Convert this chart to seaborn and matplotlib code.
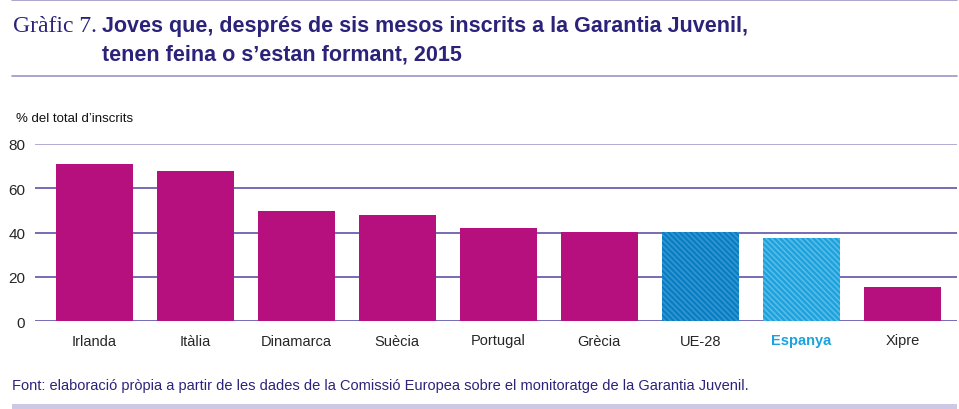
import matplotlib
matplotlib.use("Agg")
import matplotlib.pyplot as plt
import pandas as pd
import seaborn as sns

# data
countries = ["Irlanda", "Itàlia", "Dinamarca", "Suècia", "Portugal",
             "Grècia", "UE-28", "Espanya", "Xipre"]
values = [71.0, 67.8, 49.7, 47.9, 42.0, 40.2, 40.1, 37.5, 15.4]
yticks = [0, 20, 40, 60, 80]

MAGENTA = "#b5107e"
EU_BLUE = "#0a7ec3"
ES_BLUE = "#1ca2dd"
NAVY = "#2b2379"
GRID = "#4f44a0"
LIGHT_LINE = "#9d95c6"
BAND = "#cdc9e4"

bar_colors = {c: MAGENTA for c in countries}
bar_colors["UE-28"] = EU_BLUE
bar_colors["Espanya"] = ES_BLUE
hatch_colors = {"UE-28": "#3598d3", "Espanya": "#5cbde8"}

sns.set_style("white")
plt.rcParams["font.family"] = ["Liberation Sans", "DejaVu Sans"]
plt.rcParams["hatch.linewidth"] = 1.1

df = pd.DataFrame({"pais": countries, "valor": values})

fig = plt.figure(figsize=(9.59, 4.10), dpi=100)
ax = fig.add_axes([35 / 959, 1 - 322 / 410, 922 / 959, 177 / 410])

sns.barplot(data=df, x="pais", y="valor", hue="pais", palette=bar_colors,
            width=0.76, legend=False, ax=ax, zorder=3, saturation=1)

for patch, name in zip(ax.patches, countries):
    patch.set_linewidth(0)
    if name in hatch_colors:
        patch.set_hatch("\\" * 6)
        patch.set_edgecolor(hatch_colors[name])

ax.set_ylim(0, 80)
ax.set_xlim(-0.585, len(countries) - 1 + 0.54)
ax.set_yticks(yticks)
ax.set_yticklabels([str(t) for t in yticks], fontsize=11)
for t in yticks:
    ax.axhline(t, color=LIGHT_LINE if t == 80 else GRID, lw=1.1, zorder=1)
for s in ax.spines.values():
    s.set_visible(False)
ax.tick_params(axis="y", length=0, pad=7)
ax.tick_params(axis="x", length=0, pad=9)
ax.set_xlabel("")
ax.set_ylabel("")
ax.set_xticks(range(len(countries)))
ax.set_xticklabels(countries, fontsize=10.5)
for lbl in ax.get_xticklabels():
    if lbl.get_text() == "Espanya":
        lbl.set_color(ES_BLUE)
        lbl.set_fontweight("bold")

# frame lines, title and notes
fig.add_artist(plt.Line2D([12 / 959, 957 / 959], [1 - 1 / 410] * 2,
                          color=LIGHT_LINE, lw=1.2))
fig.add_artist(plt.Line2D([12 / 959, 957 / 959], [1 - 77 / 410] * 2,
                          color=LIGHT_LINE, lw=1.2))
fig.add_artist(plt.Rectangle((12 / 959, 0), 945 / 959, 5 / 410,
                             color=BAND, lw=0))

fig.text(13 / 959, 1 - 32 / 410, "Gràfic 7.", family="Liberation Serif",
         fontsize=17, color=NAVY, va="baseline")
fig.text(102 / 959, 1 - 32 / 410,
         "Joves que, després de sis mesos inscrits a la Garantia Juvenil,",
         fontsize=15.5, fontweight="bold", color=NAVY, va="baseline")
fig.text(102 / 959, 1 - 60 / 410, "tenen feina o s’estan formant, 2015",
         fontsize=15.5, fontweight="bold", color=NAVY, va="baseline")
fig.text(16 / 959, 1 - 122 / 410, "% del total d’inscrits",
         fontsize=9.5, color="#111111", va="baseline")
fig.text(12 / 959, 1 - 390 / 410,
         "Font: elaboració pròpia a partir de les dades de la Comissió "
         "Europea sobre el monitoratge de la Garantia Juvenil.",
         fontsize=10.5, color=NAVY, va="baseline")

fig.savefig("out.png", dpi=100)
